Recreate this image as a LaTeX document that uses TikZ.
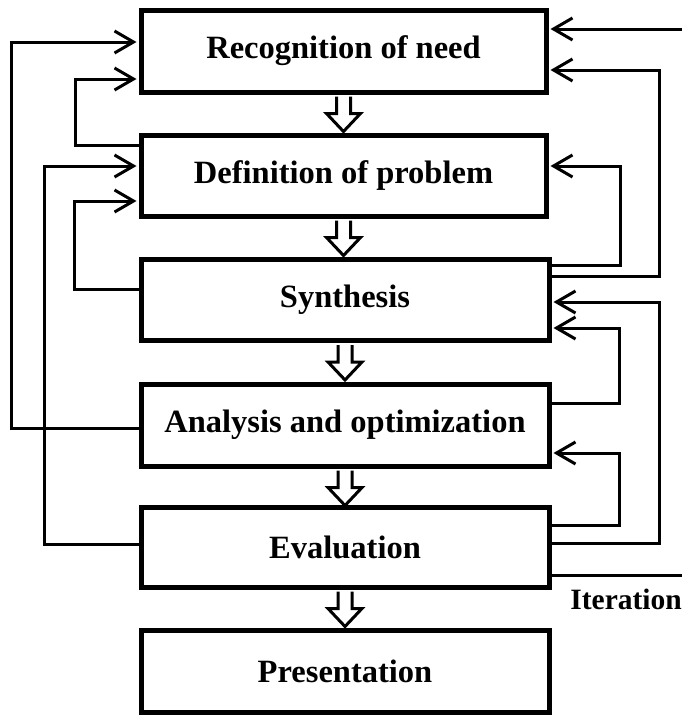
\documentclass[tikz,border=0pt]{standalone}
\usepackage{fontspec}
\setmainfont{Liberation Serif}
\usetikzlibrary{arrows.meta}
\begin{document}
\begin{tikzpicture}[x=1pt,y=-1pt,
  box/.style={draw,line width=5pt,inner sep=0pt,font=\bfseries\fontsize{32.5}{38}\selectfont},
  conn/.style={line width=3pt,-{Straight Barb[length=19pt,width=22pt,line width=3pt]},shorten >=2pt},
  plain/.style={line width=3pt},
  hollow/.style={line width=3pt,line join=miter}]
\useasboundingbox (0,0) rectangle (682,715);
\node[box,minimum width=405pt,minimum height=82pt] (b1) at (343.5,51) {Recognition of need};
\node[box,minimum width=405pt,minimum height=81pt] (b2) at (343.5,175.5) {Definition of problem};
\node[box,minimum width=408pt,minimum height=81pt] (b3) at (345,300) {Synthesis};
\node[box,minimum width=408pt,minimum height=82pt] (b4) at (345,425) {Analysis and optimization};
\node[box,minimum width=408pt,minimum height=80pt] (b5) at (345,547) {Evaluation};
\node[box,minimum width=408pt,minimum height=82pt] (b6) at (345,671.5) {Presentation};
% hollow down arrows
\foreach \s in {b1,b2,b3,b4,b5}{
  \draw[hollow] ([xshift=-7pt,yshift=-2pt]\s.south) -- ++(0,17) -- ++(-10,0) -- ++(17,18) -- ++(17,-18) -- ++(-10,0) -- ++(0,-17);
}
% left feedback
\draw[conn] ([yshift=-3pt]b4.west) -- ++(-127,0) |- ([yshift=9pt]b1.west);
\draw[conn] ([yshift=30.5pt]b2.west) -- ++(-63,0) |- ([yshift=-28pt]b1.west);
\draw[conn] ([yshift=3pt]b5.west) -- ++(-94,0) |- ([yshift=9.5pt]b2.west);
\draw[conn] ([yshift=11pt]b3.west) -- ++(-64,0) |- ([yshift=-25.5pt]b2.west);
% right feedback
\coordinate (in1) at (682,29);
\draw[conn] (in1) -- ([yshift=22pt]b1.east);
\draw[conn] ([yshift=24pt]b3.east) -- ++(108,0) |- ([yshift=-19pt]b1.east);
\draw[conn] ([yshift=35pt]b3.east) -- ++(69,0) |- ([yshift=9.5pt]b2.east);
\draw[conn] ([yshift=4pt]b5.east) -- ++(108,0) |- ([yshift=-2pt]b3.east);
\draw[conn] ([yshift=22pt]b4.east) -- ++(68,0) |- ([yshift=-28pt]b3.east);
\draw[conn] ([yshift=22pt]b5.east) -- ++(68,0) |- ([yshift=-28pt]b4.east);
\coordinate (out1) at (682,575);
\draw[plain] ([yshift=-28pt]b5.east) -- (out1);
\node[anchor=base east,inner sep=0pt,font=\bfseries\fontsize{29.5}{34}\selectfont] (it) at (682,609) {Iteration};
\end{tikzpicture}
\end{document}
